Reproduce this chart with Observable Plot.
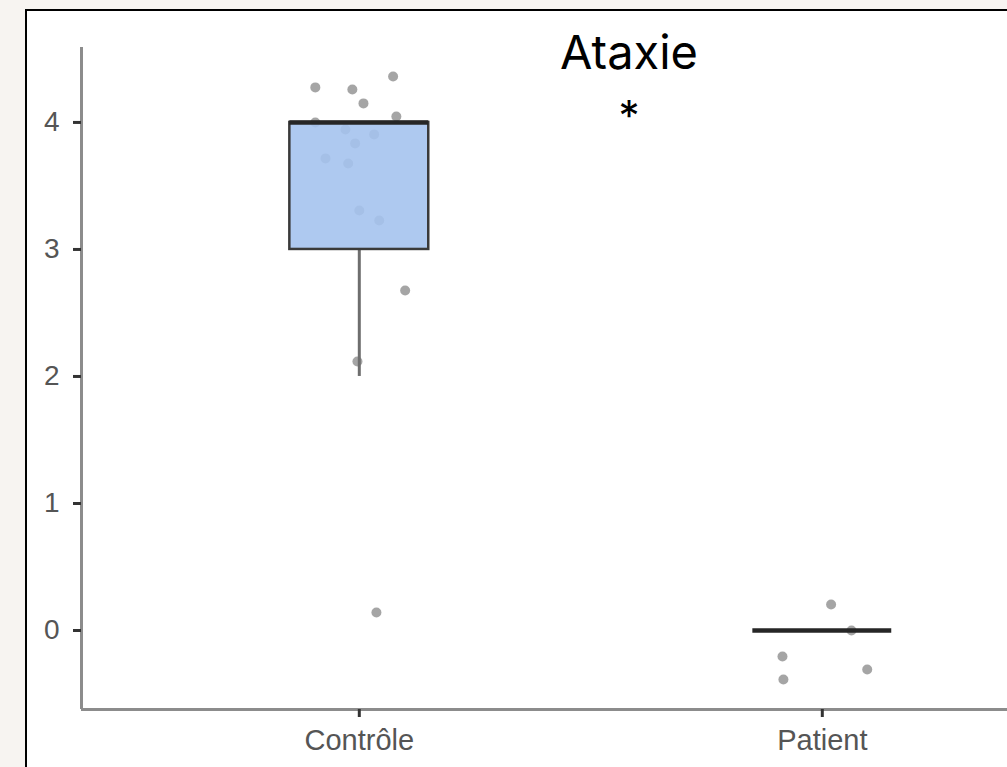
<!DOCTYPE html>
<html><head><meta charset="utf-8">
<script src="https://cdn.jsdelivr.net/npm/d3@7"></script>
<script src="https://cdn.jsdelivr.net/npm/@observablehq/plot@0.6"></script>
<style>
html,body{margin:0;padding:0;background:#f7f4f1;overflow:hidden;width:1007px;height:767px;}
#panel{position:absolute;left:25px;top:9px;width:1100px;height:900px;background:#fff;border:2px solid #000;box-sizing:border-box;}
#chart{position:absolute;left:0;top:0;}
.ttl{position:absolute;left:479px;width:300px;text-align:center;font-family:Inter,"Noto Sans",sans-serif;color:#000;line-height:1;}
</style>
</head><body>
<div id="panel"></div>
<div id="chart"></div>
<div class="ttl" id="title" style="top:28px;font-size:47px;">Ataxie</div>
<div class="ttl" id="sig" style="top:95px;font-size:42px;">*</div>
<script>
// categories and their positions on the x axis
const categories = ["Contrôle", "Patient"];
const categoryPos = [1, 2];
// box statistics per category
const boxQ1 = [3, 0];
const boxMedian = [4, 0];
const boxQ3 = [4, 0];
const whiskerLow = [2, 0];
const whiskerHigh = [4, 0];
// jittered observations
const pointGroup = ["Contrôle","Contrôle","Contrôle","Contrôle","Contrôle","Contrôle","Contrôle","Contrôle","Contrôle","Contrôle","Contrôle","Contrôle","Contrôle","Contrôle","Contrôle","Contrôle",
                    "Patient","Patient","Patient","Patient","Patient"];
const pointX = [0.905,0.985,1.073,1.009,1.080,0.905,0.970,1.032,0.991,0.927,0.976,1.000,1.043,1.099,0.996,1.037,
                2.019,2.063,1.914,1.916,2.097];
const pointValue = [4.276,4.26,4.362,4.15,4.047,4.0,3.945,3.906,3.835,3.717,3.677,3.307,3.228,2.677,2.118,0.142,
                    0.205,0.0,-0.205,-0.386,-0.307];
const yTicks = [0, 1, 2, 3, 4];
const xDomain = [0.4, 2.4];
const yDomain = [-0.622, 4.59];
const boxHalfWidth = 0.15;

const boxes = categories.map((c, i) => ({
  cat: c, pos: categoryPos[i], q1: boxQ1[i], med: boxMedian[i], q3: boxQ3[i], lo: whiskerLow[i], hi: whiskerHigh[i]
}));
const points = pointGroup.map((g, i) => ({group: g, x: pointX[i], y: pointValue[i]}));

const plot = Plot.plot({
  width: 1007,
  height: 767,
  marginLeft: 81,
  marginRight: 0,
  marginTop: 47,
  marginBottom: 58,
  style: {fontFamily: "'Liberation Sans', Arial, sans-serif", fontSize: "29px", background: "transparent"},
  x: {type: "linear", domain: xDomain},
  y: {domain: yDomain},
  marks: [
    Plot.ruleX([xDomain[0]], {stroke: "#8c8c8c", strokeWidth: 3}),
    Plot.ruleY([yDomain[0]], {stroke: "#8c8c8c", strokeWidth: 3}),
    Plot.dot(points, {x: "x", y: "y", r: 5, fill: "#959595", fillOpacity: 0.85, stroke: "none"}),
    Plot.ruleX(boxes.filter(d => d.lo < d.q1), {x: "pos", y1: "lo", y2: "q1", stroke: "#6e6e6e", strokeWidth: 3}),
    Plot.ruleX(boxes.filter(d => d.hi > d.q3), {x: "pos", y1: "q3", y2: "hi", stroke: "#6e6e6e", strokeWidth: 3}),
    Plot.rect(boxes.filter(d => d.q3 > d.q1), {x1: d => d.pos - boxHalfWidth, x2: d => d.pos + boxHalfWidth, y1: "q1", y2: "q3",
      fill: "rgb(165,195,238)", fillOpacity: 0.9, stroke: "#3a3a3a", strokeWidth: 2.5}),
    Plot.ruleY(boxes, {y: "med", x1: d => d.pos - boxHalfWidth, x2: d => d.pos + boxHalfWidth, stroke: "#262626", strokeWidth: 4.5}),
    Plot.axisY({ticks: yTicks, tickSize: 8, tickPadding: 14, stroke: "#333", strokeWidth: 3, fill: "#555", fontSize: 28, label: null, tickFormat: d => d}),
    Plot.axisX({ticks: categoryPos, tickSize: 8, tickPadding: 12, stroke: "#333", strokeWidth: 3, fill: "#555", fontSize: 29, label: null,
      tickFormat: d => categories[categoryPos.indexOf(d)]})
  ]
});
document.getElementById("chart").appendChild(plot);
</script>
</body></html>
